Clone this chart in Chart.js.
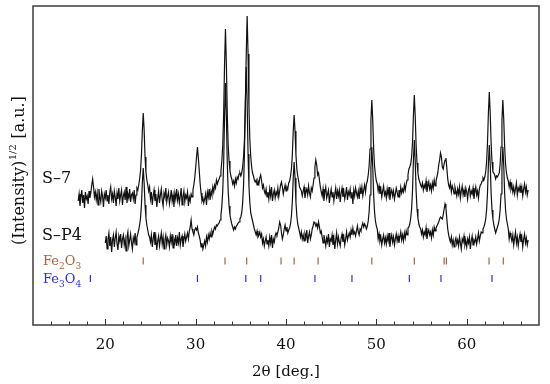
<!DOCTYPE html>
<html><head><meta charset="utf-8">
<script src="https://cdn.jsdelivr.net/npm/chart.js@4.4.0/dist/chart.umd.min.js"></script>
<style>html,body{margin:0;padding:0;background:#fff}</style>
</head><body>
<canvas id="c" width="550" height="384"></canvas>
<script>
// 2θ sampling grid (degrees)
const S7_START = 17.0;
const SP4_START = 20.0;
const STEP = 0.1;

// sqrt-intensity (a.u.) of sample S-7, one value every 0.1°
const s7 = [
124,131,119,128,135,122,130,117,133,126,
129,121,134,127,132,140,146,138,128,133,
125,132,120,136,128,123,134,129,118,131,
127,135,124,130,121,133,138,126,131,122,
134,128,119,132,126,137,124,130,135,120,
129,133,125,138,122,131,127,136,123,130,
132,126,135,121,130,137,135,140,146,154,
170,194,212,195,168,153,145,140,134,138,
126,133,120,129,135,124,131,118,127,134,
122,130,136,125,119,132,128,137,123,129,
133,121,127,135,124,130,118,132,126,136,
125,131,122,129,137,120,128,134,123,130,
127,133,119,128,124,131,128,135,140,147,
157,168,178,167,154,141,132,124,127,122,
126,131,120,133,128,136,125,134,130,138,
133,140,137,145,141,144,146,149,154,164,
180,211,261,296,261,211,180,164,154,149,
146,141,144,139,146,142,148,146,151,152,
149,152,158,168,185,218,271,309,271,218,
185,168,158,152,149,145,143,145,140,144,
141,147,150,144,137,140,134,131,136,128,
133,126,136,129,138,124,131,135,127,133,
130,137,128,134,140,143,138,131,136,140,
134,138,136,142,144,149,156,170,194,210,
194,170,156,149,144,138,136,134,129,134,
138,127,133,136,130,139,132,128,137,134,
140,147,158,165,160,150,152,145,138,133,
129,136,124,133,138,127,131,135,122,130,
136,128,133,124,131,137,126,134,129,135,
123,132,137,128,134,126,131,138,125,133,
130,136,127,133,121,135,129,137,132,128,
134,126,137,131,138,129,135,140,133,141,
144,150,159,176,205,225,205,176,159,150,
144,141,134,139,131,136,128,134,139,130,
133,127,136,130,138,125,132,135,129,134,
126,131,137,133,128,135,130,138,132,136,
133,140,135,141,145,150,156,158,161,168,
182,209,230,209,180,162,152,146,143,140,
138,142,135,140,137,144,133,139,143,136,
140,134,142,137,145,139,144,148,152,160,
165,172,168,158,156,161,165,167,157,146,
140,137,142,133,139,136,131,138,134,129,
136,131,138,127,134,139,130,135,128,137,
133,126,135,138,129,134,131,137,126,133,
138,130,134,127,136,140,141,144,147,145,
148,153,163,182,212,233,212,182,163,153,
152,150,146,149,148,150,152,161,178,205,
225,205,178,161,152,147,144,138,143,136,
140,133,138,131,136,142,130,137,134,139,
132,138,129,136,141,133,138,130,135
];

// sqrt-intensity (a.u.) of sample S-P4, one value every 0.1°
const sp4 = [
82,89,76,86,92,79,88,73,85,90,
78,87,93,81,75,89,84,91,77,86,
90,80,86,74,88,93,79,85,91,82,
76,87,83,92,80,88,91,95,100,107,
120,142,157,142,120,107,100,95,90,88,
83,90,78,86,93,80,87,75,84,89,
79,86,92,81,88,76,85,90,80,87,
84,78,89,83,91,77,86,82,90,79,
87,82,93,80,86,89,78,85,91,84,
88,92,86,94,98,105,96,93,90,95,
97,95,98,92,89,85,78,82,76,80,
84,79,88,83,90,86,92,88,94,91,
95,98,96,100,99,101,102,105,110,119,
134,162,209,242,209,162,134,119,110,105,
101,98,95,98,96,99,100,102,103,106,
108,112,122,139,171,223,258,223,171,139,
122,112,108,104,100,96,93,90,94,88,
90,93,88,91,82,86,79,84,88,81,
85,79,88,82,90,77,86,83,89,92,
90,93,97,103,100,92,86,90,96,100,
94,98,92,95,97,101,109,123,147,163,
147,123,109,101,97,93,88,93,86,90,
84,91,87,95,82,89,93,86,90,96,
99,103,102,99,101,97,103,98,92,94,
88,82,90,85,79,87,83,91,78,86,
84,90,80,87,76,85,92,81,88,83,
79,87,91,83,88,80,86,93,85,89,
92,88,95,90,97,91,93,89,94,99,
93,90,96,94,99,102,98,101,99,96,
99,104,113,130,158,178,158,130,113,104,
99,96,86,91,84,88,80,86,90,82,
87,81,89,84,92,78,86,90,83,88,
80,86,91,84,89,82,88,93,85,90,
84,92,87,94,90,97,98,101,107,116,
134,164,185,164,134,116,107,101,98,96,
91,95,88,93,90,97,86,92,95,90,
93,87,95,90,98,94,97,99,101,103,
106,108,107,106,110,116,121,117,106,96,
90,86,83,88,80,85,78,84,87,81,
85,79,88,82,76,86,83,89,80,84,
78,86,82,88,76,84,89,80,85,83,
88,81,86,92,84,89,93,92,96,98,
101,106,115,132,161,180,161,132,115,106,
100,96,92,95,98,101,106,115,131,159,
178,159,131,115,106,101,96,86,92,88,
84,90,80,87,93,82,88,79,86,91,
83,88,78,86,91,82,87,80,85
];

// reference peak positions (2θ, degrees)
const fe2o3Pos = [24.2, 33.25, 35.65, 39.45, 40.9, 43.55, 49.5, 54.2, 57.5, 57.75, 62.47, 64.05];
const fe3o4Pos = [18.35, 30.2, 35.55, 37.2, 43.2, 47.3, 53.65, 57.15, 62.8];

// x tick labels shown
const xTickLabels = [20, 30, 40, 50, 60];

const toPts = (arr, start) => arr.map((v, i) => ({ x: +(start + i * STEP).toFixed(1), y: v }));

const SERIF = "'DejaVu Serif', 'Liberation Serif', serif";
const BROWN = '#a8643a';
const BLUE = '#2f2fe0';

function drawSub(ctx, parts, x, y, size, color) {
  ctx.fillStyle = color;
  let cx = x;
  parts.forEach(([t, sub]) => {
    ctx.font = (sub ? Math.round(size * 0.7) : size) + 'px ' + SERIF;
    ctx.fillText(t, cx, sub ? y + size * 0.28 : y);
    cx += ctx.measureText(t).width;
  });
}

const decor = {
  id: 'decor',
  afterDraw(chart) {
    const { ctx, chartArea: a } = chart;
    const xs = chart.scales.x;
    ctx.save();
    ctx.strokeStyle = '#3c3c3c';
    ctx.lineWidth = 1.5;
    ctx.strokeRect(a.left, a.top, a.right - a.left, a.bottom - a.top);
    ctx.lineWidth = 1;
    ctx.strokeStyle = '#333';
    ctx.beginPath();
    xs.ticks.forEach(t => {
      if (t.value <= xs.min || t.value >= xs.max) return;
      const px = Math.round(xs.getPixelForValue(t.value)) + 0.5;
      const len = (t.value % 10 === 0) ? 6 : 3.5;
      ctx.moveTo(px, a.bottom);
      ctx.lineTo(px, a.bottom - len);
    });
    ctx.stroke();

    ctx.textBaseline = 'alphabetic';
    ctx.textAlign = 'left';
    ctx.fillStyle = '#111';
    ctx.font = '16px ' + SERIF;
    ctx.fillText('S\u20137', 42, 183);
    ctx.fillText('S\u2013P4', 42, 240);
    drawSub(ctx, [['Fe', 0], ['2', 1], ['O', 0], ['3', 1]], 43, 265, 13, BROWN);
    drawSub(ctx, [['Fe', 0], ['3', 1], ['O', 0], ['4', 1]], 43, 283, 13, BLUE);

    ctx.save();
    ctx.translate(20, 171);
    ctx.rotate(-Math.PI / 2);
    ctx.fillStyle = '#111';
    ctx.textBaseline = 'middle';
    const big = '16px ' + SERIF, small = '10px ' + SERIF;
    ctx.font = big; const w1 = ctx.measureText('(Intensity)').width;
    ctx.font = small; const w2 = ctx.measureText('1/2').width;
    ctx.font = big; const w3 = ctx.measureText(' [a.u.]').width;
    let sx = -(w1 + w2 + w3) / 2;
    ctx.font = big; ctx.fillText('(Intensity)', sx, 0); sx += w1;
    ctx.font = small; ctx.fillText('1/2', sx + 0.5, -7); sx += w2 + 1;
    ctx.font = big; ctx.fillText(' [a.u.]', sx, 0);
    ctx.restore();
    ctx.restore();
  }
};

new Chart(document.getElementById('c'), {
  type: 'line',
  data: {
    datasets: [
      { label: 'S-7', data: toPts(s7, S7_START), borderColor: '#111', borderWidth: 1.2, pointRadius: 0, tension: 0 },
      { label: 'S-P4', data: toPts(sp4, SP4_START), borderColor: '#111', borderWidth: 1.2, pointRadius: 0, tension: 0 },
      { type: 'scatter', label: 'Fe2O3', data: fe2o3Pos.map(x => ({ x, y: 64 })), pointStyle: 'line', rotation: 90, pointRadius: 3.5, borderColor: BROWN, borderWidth: 1.2, showLine: false },
      { type: 'scatter', label: 'Fe3O4', data: fe3o4Pos.map(x => ({ x, y: 46.5 })), pointStyle: 'line', rotation: 90, pointRadius: 3.5, borderColor: BLUE, borderWidth: 1.2, showLine: false }
    ]
  },
  options: {
    responsive: false,
    animation: false,
    events: [],
    layout: { padding: { left: 33, right: 7, top: 6, bottom: 0 } },
    plugins: { legend: { display: false }, tooltip: { enabled: false } },
    scales: {
      x: {
        type: 'linear', min: 12, max: 68,
        grid: { display: false, drawTicks: false },
        border: { display: false },
        ticks: {
          stepSize: 2, autoSkip: false, maxRotation: 0, padding: 11,
          color: '#111', font: { family: SERIF, size: 15 },
          callback: v => xTickLabels.includes(v) ? String(v) : ''
        },
        title: { display: true, text: '2\u03b8 [deg.]', color: '#111', font: { family: SERIF, size: 15 }, padding: { top: 0, bottom: 3 } },
        afterFit: s => { s.height = 59; }
      },
      y: { display: false, min: 0, max: 319 }
    }
  },
  plugins: [decor]
});
</script>
</body></html>
